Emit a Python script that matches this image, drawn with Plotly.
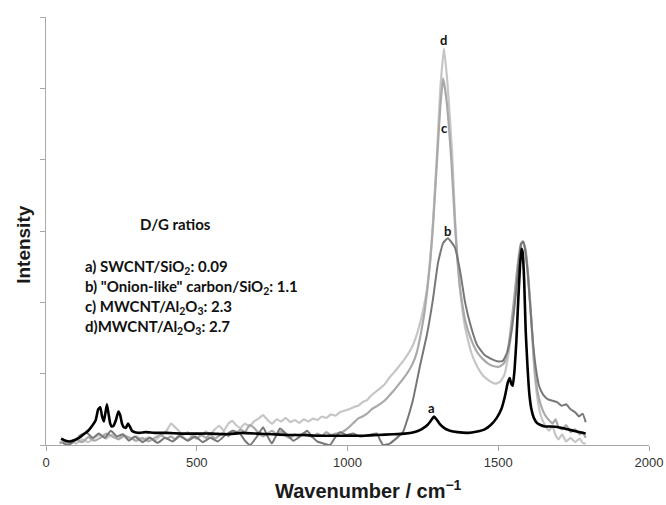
import plotly.graph_objects as go

# ---- data (wavenumber / cm-1, intensity in axis units) ----
wn_a = [50, 65, 80, 95, 110, 125, 140, 155, 165, 173, 180, 186, 192, 197, 202, 207, 213, 218,
        224, 232, 240, 246, 252, 258, 265, 272, 278, 285, 295, 310, 330, 360, 400, 450, 500,
        550, 600, 650, 700, 750, 800, 850, 900, 950, 1000, 1050, 1100, 1150, 1190, 1220, 1245,
        1265, 1278, 1287, 1295, 1305, 1320, 1340, 1365, 1400, 1430, 1455, 1475, 1495, 1510,
        1522, 1532, 1538, 1543, 1548, 1554, 1560, 1566, 1572, 1577, 1581, 1586, 1591, 1597,
        1603, 1610, 1618, 1628, 1640, 1655, 1675, 1700, 1730, 1760, 1790]
int_a = [0.09, 0.06, 0.05, 0.07, 0.10, 0.15, 0.20, 0.28, 0.35, 0.50, 0.53, 0.40, 0.33, 0.45,
         0.57, 0.45, 0.30, 0.26, 0.27, 0.35, 0.47, 0.42, 0.30, 0.25, 0.24, 0.30, 0.26, 0.20,
         0.18, 0.17, 0.18, 0.17, 0.17, 0.16, 0.16, 0.16, 0.15, 0.17, 0.16, 0.15, 0.14, 0.14,
         0.13, 0.13, 0.13, 0.13, 0.14, 0.15, 0.16, 0.18, 0.22, 0.28, 0.35, 0.40, 0.36, 0.30,
         0.24, 0.20, 0.18, 0.17, 0.19, 0.22, 0.28, 0.38, 0.50, 0.68, 0.88, 0.94, 0.86, 0.83,
         1.05, 1.45, 2.00, 2.50, 2.75, 2.70, 2.30, 1.60, 1.10, 0.72, 0.50, 0.38, 0.31, 0.28,
         0.26, 0.26, 0.25, 0.22, 0.19, 0.16]

wn_b = [55, 75, 95, 115, 135, 155, 175, 195, 215, 235, 255, 275, 295, 320, 345, 370, 395, 420,
        445, 470, 495, 520, 545, 570, 595, 620, 643, 660, 677, 700, 720, 735, 749, 762, 776,
        798, 820, 843, 866, 882, 899, 920, 942, 958, 975, 997, 1019, 1041, 1064, 1081, 1098,
        1108, 1118, 1140, 1164, 1184, 1201, 1217, 1240, 1264, 1283, 1300, 1317, 1333, 1356,
        1373, 1390, 1410, 1430, 1455, 1480, 1500, 1515, 1530, 1545, 1558, 1568, 1576, 1583,
        1590, 1598, 1606, 1614, 1624, 1636, 1650, 1665, 1680, 1695, 1710, 1725, 1740, 1755,
        1768, 1780, 1790]
int_b = [0.03, 0.00, 0.06, 0.14, 0.17, 0.10, 0.16, 0.10, 0.20, 0.12, 0.15, 0.06, 0.12, 0.04,
         0.10, 0.03, 0.10, 0.05, 0.13, 0.06, 0.12, 0.04, 0.10, 0.05, 0.14, 0.20, 0.16, 0.06,
         0.00, 0.12, 0.25, 0.12, 0.02, 0.12, 0.23, 0.15, 0.06, 0.12, 0.20, 0.12, 0.05, 0.02,
         0.00, 0.10, 0.18, 0.14, 0.16, 0.12, 0.13, 0.15, 0.16, 0.07, 0.00, 0.02, 0.10, 0.18,
         0.39, 0.63, 1.10, 1.56, 2.03, 2.55, 2.83, 2.90, 2.77, 2.45, 2.00, 1.65, 1.40, 1.26,
         1.20, 1.17, 1.18, 1.30, 1.62, 2.10, 2.55, 2.82, 2.85, 2.72, 2.40, 1.95, 1.50, 1.10,
         0.82, 0.70, 0.64, 0.62, 0.60, 0.55, 0.57, 0.50, 0.46, 0.40, 0.44, 0.32]

wn_c = [45, 60, 80, 100, 120, 140, 160, 180, 200, 220, 240, 260, 280, 300, 320, 340, 360, 380,
        400, 415, 428, 440, 455, 470, 485, 500, 515, 530, 545, 560, 575, 590, 605, 618, 630,
        645, 660, 675, 690, 705, 720, 735, 750, 765, 780, 795, 810, 825, 840, 855, 870, 885,
        900, 915, 930, 945, 960, 975, 990, 1005, 1020, 1035, 1050, 1065, 1080, 1095, 1110,
        1125, 1140, 1155, 1170, 1185, 1200, 1215, 1230, 1245, 1255, 1264, 1275, 1284, 1297,
        1308, 1317, 1328, 1345, 1357, 1373, 1390, 1410, 1430, 1450, 1470, 1490, 1505, 1520,
        1535, 1550, 1565, 1575, 1582, 1590, 1600, 1610, 1620, 1630, 1642, 1655, 1668, 1680,
        1690, 1700, 1712, 1725, 1740, 1755, 1770, 1780, 1790]
int_c = [0.02, 0.05, 0.02, 0.07, 0.04, 0.11, 0.06, 0.10, 0.16, 0.12, 0.08, 0.13, 0.10, 0.06,
         0.10, 0.05, 0.10, 0.14, 0.09, 0.12, 0.08, 0.13, 0.10, 0.07, 0.12, 0.09, 0.14, 0.10,
         0.15, 0.09, 0.13, 0.18, 0.12, 0.20, 0.16, 0.22, 0.18, 0.28, 0.24, 0.17, 0.12, 0.16,
         0.20, 0.15, 0.19, 0.13, 0.10, 0.15, 0.12, 0.17, 0.14, 0.11, 0.16, 0.13, 0.18, 0.14,
         0.16, 0.17, 0.20, 0.25, 0.31, 0.37, 0.40, 0.44, 0.50, 0.54, 0.58, 0.63, 0.70, 0.77,
         0.85, 0.93, 1.02, 1.13, 1.30, 1.60, 1.85, 2.15, 2.60, 3.10, 4.00, 4.75, 5.14, 4.85,
         3.95, 3.05, 2.20, 1.75, 1.48, 1.30, 1.20, 1.13, 1.10, 1.10, 1.15, 1.42, 1.95, 2.55,
         2.82, 2.85, 2.75, 2.35, 1.75, 1.10, 0.75, 0.55, 0.42, 0.35, 0.30, 0.36, 0.25, 0.22,
         0.28, 0.18, 0.22, 0.15, 0.18, 0.10]

wn_d = [45, 60, 80, 100, 120, 140, 160, 180, 200, 220, 240, 260, 280, 300, 320, 340, 360, 380,
        400, 415, 428, 440, 455, 470, 485, 500, 515, 530, 545, 560, 575, 590, 605, 618, 630,
        645, 660, 675, 690, 705, 720, 735, 750, 765, 780, 795, 810, 825, 840, 855, 870, 885,
        900, 915, 930, 945, 960, 975, 990, 1005, 1020, 1035, 1050, 1065, 1080, 1095, 1110,
        1125, 1140, 1155, 1170, 1185, 1200, 1215, 1230, 1245, 1255, 1264, 1275, 1284, 1297,
        1308, 1320, 1332, 1347, 1357, 1373, 1390, 1410, 1430, 1450, 1470, 1490, 1505, 1520,
        1535, 1550, 1565, 1575, 1582, 1590, 1600, 1610, 1620, 1630, 1642, 1655, 1668, 1680,
        1690, 1700, 1712, 1725, 1740, 1755, 1770, 1780, 1790]
int_d = [0.05, 0.03, 0.06, 0.02, 0.08, 0.04, 0.10, 0.14, 0.09, 0.15, 0.10, 0.14, 0.08, 0.12,
         0.07, 0.11, 0.06, 0.13, 0.20, 0.30, 0.25, 0.20, 0.14, 0.18, 0.12, 0.17, 0.13, 0.19,
         0.15, 0.22, 0.27, 0.20, 0.30, 0.34, 0.28, 0.24, 0.30, 0.26, 0.33, 0.37, 0.42, 0.35,
         0.30, 0.36, 0.33, 0.38, 0.32, 0.35, 0.31, 0.36, 0.33, 0.37, 0.35, 0.40, 0.38, 0.43,
         0.41, 0.46, 0.48, 0.50, 0.53, 0.55, 0.60, 0.63, 0.70, 0.75, 0.80, 0.86, 0.95, 1.02,
         1.10, 1.18, 1.27, 1.38, 1.55, 1.78, 1.98, 2.20, 2.65, 3.15, 4.10, 5.00, 5.56, 5.05,
         4.10, 3.15, 2.20, 1.65, 1.30, 1.10, 0.97, 0.90, 0.86, 0.88, 0.98, 1.30, 1.85, 2.50,
         2.80, 2.86, 2.72, 2.30, 1.70, 1.05, 0.65, 0.40, 0.28, 0.20, 0.26, 0.14, 0.08, 0.15,
         0.05, 0.10, 0.04, 0.09, 0.03, 0.02]

peak_labels = ["a", "b", "c", "d"]
peak_label_x = [1280, 1330, 1323, 1320]
peak_label_y = [0.52, 3.0, 4.45, 5.68]

ratio_title = "D/G ratios"
ratio_lines = ["a) SWCNT/SiO<sub>2</sub>: 0.09",
               "b) \"Onion-like\" carbon/SiO<sub>2</sub>: 1.1",
               "c) MWCNT/Al<sub>2</sub>O<sub>3</sub>: 2.3",
               "d)MWCNT/Al<sub>2</sub>O<sub>3</sub>: 2.7"]

x_ticks = [0, 500, 1000, 1500, 2000]

fig = go.Figure()
series = [(wn_d, int_d, "#c6c6c6", 2.2),
          (wn_c, int_c, "#a9a9a9", 2.2),
          (wn_b, int_b, "#777777", 2.0),
          (wn_a, int_a, "#000000", 2.6)]
for x, y, col, w in series:
    fig.add_trace(go.Scatter(x=x, y=y, mode="lines",
                             line=dict(color=col, width=w, shape="spline", smoothing=0.4),
                             showlegend=False, hoverinfo="skip"))

txt_font = dict(family="Lato, Open Sans, sans-serif", size=15, color="#111111")
ann = []
for t, x, y in zip(peak_labels, peak_label_x, peak_label_y):
    ann.append(dict(x=x, y=y, xref="x", yref="y", text="<b>%s</b>" % t, showarrow=False,
                    xanchor="center", yanchor="middle",
                    font=dict(family="Lato, Open Sans, sans-serif", size=13, color="#111111")))

ann.append(dict(x=428, y=3.1, xref="x", yref="y", text="<b>%s</b>" % ratio_title,
                showarrow=False, xanchor="center", yanchor="middle", font=txt_font))
line_y = [2.5, 2.22, 1.94, 1.66]
for t, y in zip(ratio_lines, line_y):
    ann.append(dict(x=123, y=y, xref="x", yref="y", text="<b>%s</b>" % t, showarrow=False,
                    xanchor="left", yanchor="middle", font=txt_font))

ann.append(dict(x=-0.0365, y=0.47, xref="paper", yref="paper", text="<b>Intensity</b>",
                textangle=-90, showarrow=False, xanchor="center", yanchor="middle",
                font=dict(family="Liberation Sans, Arial, sans-serif", size=19, color="#1a1a1a")))
ann.append(dict(x=0.534, y=-0.139, xref="paper", yref="paper",
                text="<b>Wavenumber / cm<sup>−1</sup></b>", showarrow=False,
                xanchor="center", yanchor="bottom",
                font=dict(family="Liberation Sans, Arial, sans-serif", size=20, color="#1a1a1a")))

fig.update_layout(
    width=666, height=505,
    margin=dict(l=46, r=17, t=17, b=60, autoexpand=False),
    paper_bgcolor="white", plot_bgcolor="white",
    annotations=ann,
    xaxis=dict(range=[0, 2000], tickvals=x_ticks, ticktext=[str(v) for v in x_ticks],
               automargin=False,
               showgrid=False, zeroline=False, showline=True, linecolor="#a8a8a8",
               linewidth=1.3, ticks="outside", ticklen=5, tickcolor="#a8a8a8",
               tickfont=dict(family="Liberation Sans, Arial, sans-serif", size=13,
                             color="#333333")),
    yaxis=dict(range=[0, 6], dtick=1, showticklabels=False, showgrid=False, zeroline=False,
               automargin=False,
               showline=True, linecolor="#a8a8a8", linewidth=1.3, ticks="outside",
               ticklen=5, tickcolor="#a8a8a8"),
)

fig.write_html("out.html")
